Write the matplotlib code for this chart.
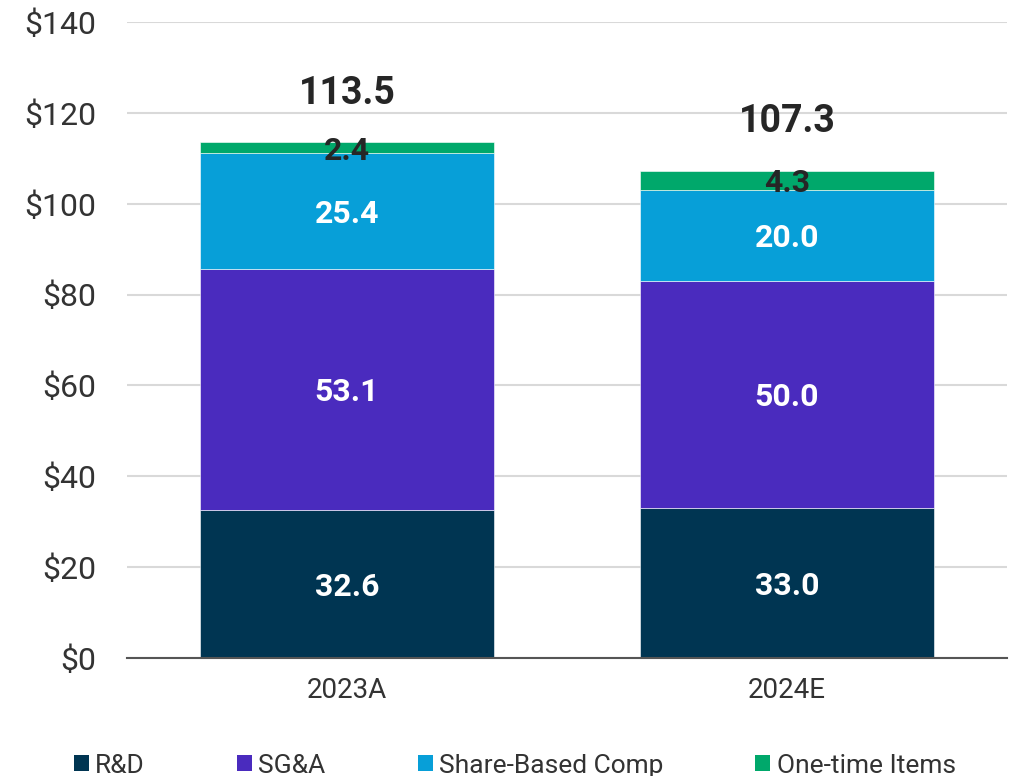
import numpy as np
import matplotlib.pyplot as plt
from matplotlib.patches import Patch

plt.rcParams["font.family"] = ["Roboto", "DejaVu Sans"]

# Data
years = ["2023A", "2024E"]
rnd = [32.6, 33.0]
sga = [53.1, 50.0]
sbc = [25.4, 20.0]
one_time = [2.4, 4.3]
totals = [113.5, 107.3]

series = [
    ("R&D", rnd, "#003552", "white"),
    ("SG&A", sga, "#4A2BBE", "white"),
    ("Share-Based Comp", sbc, "#079FD8", "white"),
    ("One-time Items", one_time, "#00A86B", "#262626"),
]

fig = plt.figure(figsize=(10.15, 7.76), dpi=100)
ax = fig.add_axes([0.1251, 0.152, 0.8669, 0.8196])

x = np.arange(len(years))
bottom = np.zeros(len(years))
for name, vals, col, tcol in series:
    vals = np.array(vals)
    ax.bar(x, vals, 0.668, bottom=bottom, color=col, edgecolor="white",
           linewidth=0.4, zorder=2)
    for xi, b, v in zip(x, bottom, vals):
        ax.annotate(f"{v:.1f}", (xi, b + v / 2), xytext=(0, -2),
                    textcoords="offset points", ha="center", va="center",
                    fontsize=23, fontweight="bold", color=tcol, zorder=3)
    bottom += vals

for xi, t in zip(x, totals):
    ax.annotate(f"{t:.1f}", (xi, t), xytext=(0, 35), textcoords="offset points",
                ha="center", va="center", fontsize=27, fontweight="bold",
                color="#262626")

ax.set_xlim(-0.5, 1.5)
ax.set_ylim(0, 140)
ax.set_yticks(np.arange(0, 141, 20))
ax.set_yticklabels([f"${v}" for v in range(0, 141, 20)])
ax.set_xticks(x)
ax.set_xticklabels(years)
ax.grid(axis="y", color="#d9d9d9", linewidth=1.5, zorder=0)
ax.set_axisbelow(True)
for s in ["top", "right", "left"]:
    ax.spines[s].set_visible(False)
ax.spines["bottom"].set_color("#555555")
ax.spines["bottom"].set_linewidth(1.5)
ax.tick_params(axis="y", length=0, pad=22, labelsize=23, labelcolor="#333333")
ax.tick_params(axis="x", length=0, pad=14, labelsize=20, labelcolor="#333333")

handles = [Patch(facecolor=c, label=n) for n, _, c, _ in series]
fig.legend(handles=handles, loc="center", bbox_to_anchor=(0.507, 0.0135),
           ncol=4, frameon=False, fontsize=19, handlelength=0.57,
           handleheight=0.57, handletextpad=0.23, columnspacing=3.5,
           labelcolor="#333333")

fig.savefig("out.png", dpi=100)
